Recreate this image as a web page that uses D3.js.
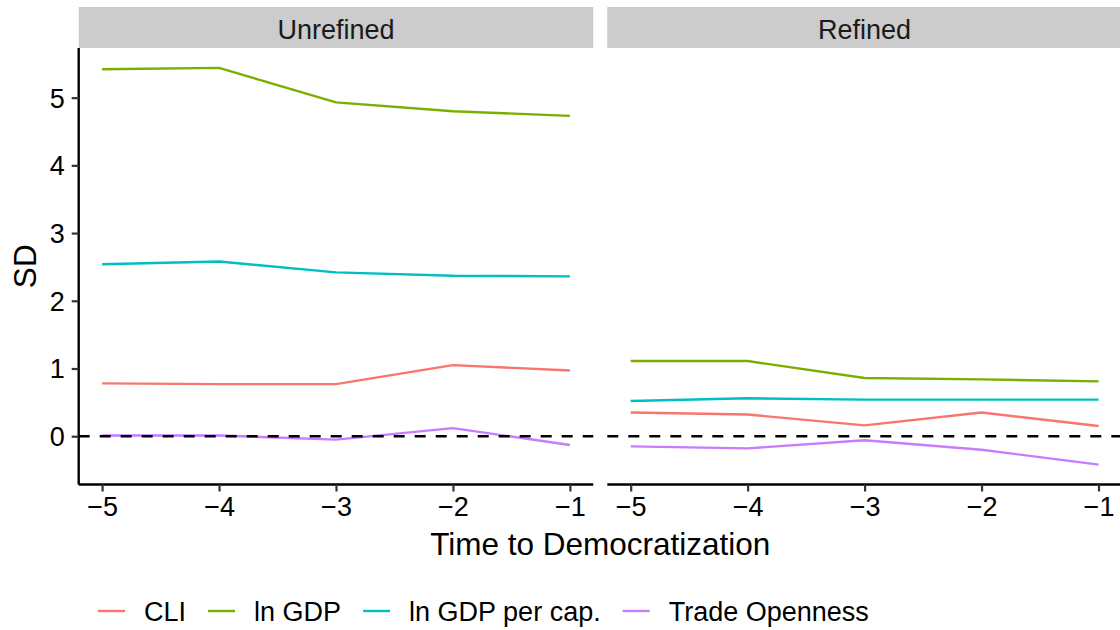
<!DOCTYPE html>
<html>
<head>
<meta charset="utf-8">
<script src="https://cdn.jsdelivr.net/npm/d3@7"></script>
<style>
  html, body { margin: 0; padding: 0; background: #fff; }
  svg { display: block; font-family: "Liberation Sans", Arial, Helvetica, sans-serif; }
</style>
</head>
<body>
<svg id="chart" width="1120" height="630"></svg>
<script>
// ---- data ----
const times = [-5, -4, -3, -2, -1];
const panels = ["Unrefined", "Refined"];
const seriesNames = ["CLI", "ln GDP", "ln GDP per cap.", "Trade Openness"];
const seriesColors = ["#F8766D", "#7CAE00", "#00BFC4", "#C77CFF"];

const unrefinedCLI   = [0.78, 0.77, 0.77, 1.05, 0.97];
const unrefinedGDP   = [5.42, 5.44, 4.93, 4.80, 4.73];
const unrefinedGDPpc = [2.54, 2.58, 2.42, 2.37, 2.36];
const unrefinedTrade = [0.01, 0.01, -0.05, 0.12, -0.13];

const refinedCLI   = [0.35, 0.32, 0.16, 0.35, 0.15];
const refinedGDP   = [1.11, 1.11, 0.86, 0.84, 0.81];
const refinedGDPpc = [0.52, 0.56, 0.54, 0.54, 0.54];
const refinedTrade = [-0.15, -0.18, -0.06, -0.20, -0.42];

const xTicks = [-5, -4, -3, -2, -1];
const yTicks = [0, 1, 2, 3, 4, 5];

const panelData = {
  "Unrefined": [unrefinedCLI, unrefinedGDP, unrefinedGDPpc, unrefinedTrade],
  "Refined":   [refinedCLI, refinedGDP, refinedGDPpc, refinedTrade]
};

// ---- layout ----
const svg = d3.select("#chart");
const panelTop = 48, panelBottom = 484.5;
const panelX = [[78.7, 593.3], [607.3, 1121.9]];
const stripTop = 7;
const tickFont = 27;
const titleFont = 31.5;
const FONT = '"Liberation Sans", Arial, sans-serif';

const allVals = panels.flatMap(p => panelData[p].flat());
const yMin = d3.min(allVals), yMax = d3.max(allVals);
const yPad = (yMax - yMin) * 0.05;
const y = d3.scaleLinear().domain([yMin - yPad, yMax + yPad]).range([panelBottom, panelTop]);

const xPad = (d3.max(times) - d3.min(times)) * 0.05;

panels.forEach((p, pi) => {
  const [x0, x1] = panelX[pi];
  const x = d3.scaleLinear().domain([d3.min(times) - xPad, d3.max(times) + xPad]).range([x0, x1]);

  // strip
  svg.append("rect").attr("x", x0).attr("y", stripTop)
    .attr("width", x1 - x0).attr("height", panelTop - stripTop)
    .attr("fill", "#cccccc");
  svg.append("text").attr("x", (x0 + x1) / 2).attr("y", 38.5)
    .attr("text-anchor", "middle").attr("font-size", tickFont).attr("fill", "#1a1a1a")
    .text(p);

  const g = svg.append("g");
  const clipId = "clip" + pi;
  svg.append("clipPath").attr("id", clipId).append("rect")
    .attr("x", x0).attr("y", panelTop).attr("width", x1 - x0).attr("height", panelBottom - panelTop);

  // series lines
  const line = d3.line().x((d, i) => x(times[i])).y(d => y(d));
  panelData[p].forEach((vals, si) => {
    g.append("path").datum(vals).attr("d", line)
      .attr("fill", "none").attr("stroke", seriesColors[si])
      .attr("stroke-width", 2.4).attr("stroke-linejoin", "round")
      .attr("clip-path", `url(#${clipId})`);
  });

  // zero dashed line
  g.append("line").attr("x1", x0).attr("x2", x1)
    .attr("y1", y(0)).attr("y2", y(0))
    .attr("stroke", "#000").attr("stroke-width", 2.6)
    .attr("stroke-dasharray", "11,10");

  // x axis
  const xAxis = d3.axisBottom(x).tickValues(xTicks).tickSize(7).tickPadding(5)
    .tickFormat(d => "\u2212" + Math.abs(d));
  const xa = svg.append("g").attr("transform", `translate(0,${panelBottom})`).call(xAxis);
  xa.select(".domain").attr("stroke", "#000").attr("stroke-width", 2.4)
    .attr("d", `M${x0},0H${x1}`);
  xa.selectAll(".tick line").attr("stroke", "#333").attr("stroke-width", 2.2);
  xa.selectAll(".tick text").attr("font-size", tickFont).attr("fill", "#000")
    .attr("font-family", FONT);

  if (pi === 0) {
    const yAxis = d3.axisLeft(y).tickValues(yTicks).tickSize(7).tickPadding(7)
      .tickFormat(d3.format("d"));
    const ya = svg.append("g").attr("transform", `translate(${x0},0)`).call(yAxis);
    ya.select(".domain").attr("stroke", "#000").attr("stroke-width", 2.4)
      .attr("d", `M0,${panelTop}V${panelBottom}`);
    ya.selectAll(".tick line").attr("stroke", "#333").attr("stroke-width", 2.2);
    ya.selectAll(".tick text").attr("font-size", tickFont).attr("fill", "#000")
      .attr("dy", "0.35em")
      .attr("font-family", FONT);
  }
});

// axis titles
svg.append("text").attr("x", (panelX[0][0] + panelX[1][1]) / 2).attr("y", 555)
  .attr("text-anchor", "middle").attr("font-size", titleFont).attr("fill", "#000")
  .text("Time to Democratization");
svg.append("text")
  .attr("transform", `translate(36,${(panelTop + panelBottom) / 2}) rotate(-90)`)
  .attr("text-anchor", "middle").attr("font-size", titleFont).attr("fill", "#000")
  .text("SD");

// legend
const legendY = 611;
let lx = 98;
seriesNames.forEach((name, i) => {
  svg.append("line").attr("x1", lx).attr("x2", lx + 27)
    .attr("y1", legendY).attr("y2", legendY)
    .attr("stroke", seriesColors[i]).attr("stroke-width", 2.4);
  const t = svg.append("text").attr("x", lx + 46).attr("y", legendY + 9.5)
    .attr("font-size", tickFont).attr("fill", "#000").text(name);
  const w = t.node().getComputedTextLength();
  lx = lx + 46 + w + 22;
});
</script>
</body>
</html>
